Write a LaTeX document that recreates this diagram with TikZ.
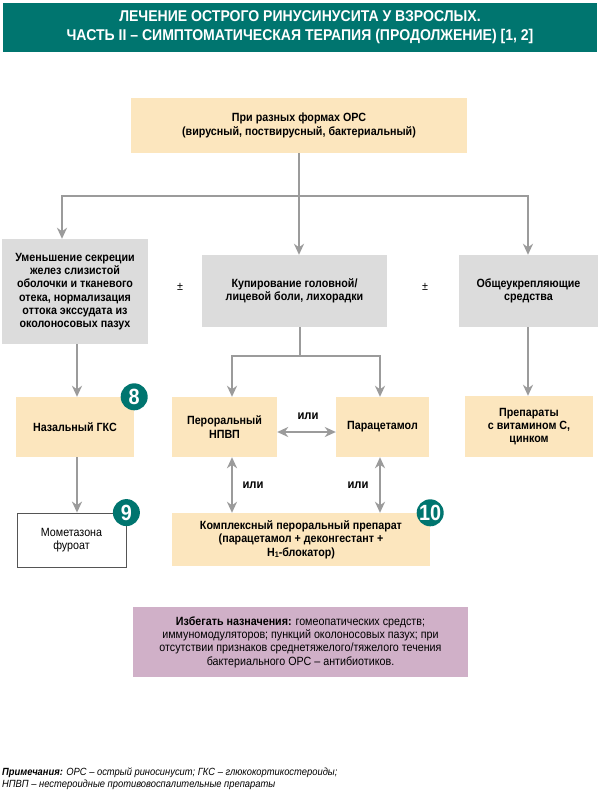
\documentclass[tikz,border=0pt]{standalone}
\usepackage{fontspec}
\setmainfont{Liberation Sans}[FakeStretch=0.9]
\usetikzlibrary{arrows.meta}
\definecolor{tealc}{RGB}{0,117,111}
\definecolor{beigec}{RGB}{252,230,190}
\definecolor{grayc}{RGB}{220,220,220}
\definecolor{purplec}{RGB}{208,176,200}
\definecolor{linec}{RGB}{155,155,155}
\definecolor{bordc}{RGB}{85,85,85}
\tikzset{
  boxbase/.style={inner sep=0pt, align=center, font=\fontsize{11.9}{13.3}\selectfont\bfseries},
  beigebox/.style={boxbase, fill=beigec},
  graybox/.style={boxbase, fill=grayc},
  conn/.style={draw=linec, line width=2.8pt, line join=miter},
  arr/.style={conn, -{Stealth[length=11pt,width=10pt,inset=3.5pt]}},
  darr/.style={conn, {Stealth[length=11pt,width=10pt,inset=3.5pt]}-{Stealth[length=11pt,width=10pt,inset=3.5pt]}},
  badge/.style={circle, fill=tealc, text=white, minimum size=27pt, inner sep=0pt, font=\fontsize{22}{22}\selectfont\bfseries},
  orlbl/.style={inner sep=0pt, font=\fontsize{12.5}{13}\selectfont\bfseries},
  pmlbl/.style={inner sep=0pt, font=\fontsize{12}{13}\selectfont}
}
\begin{document}
\begin{tikzpicture}[x=1pt,y=-1pt]
\path[use as bounding box, fill=white] (0,0) rectangle (600,796);

\node[fill=tealc, minimum width=594pt, minimum height=49pt, inner sep=0pt, text=white, align=center,
  font=\fontsize{15.6}{19}\selectfont\bfseries] (title) at (300,27.5)
  {ЛЕЧЕНИЕ ОСТРОГО РИНУСИНУСИТА У ВЗРОСЛЫХ.\\ЧАСТЬ II – СИМПТОМАТИЧЕСКАЯ ТЕРАПИЯ (ПРОДОЛЖЕНИЕ) [1, 2]};

\node[beigebox, minimum width=336pt, minimum height=55pt] (top) at (299,125.5)
  {При разных формах ОРС\\(вирусный, поствирусный, бактериальный)};

\node[graybox, minimum width=146pt, minimum height=105pt] (left) at (75,291.5)
  {Уменьшение секреции\\желез слизистой\\оболочки и тканевого\\отека, нормализация\\оттока экссудата из\\околоносовых пазух};
\node[graybox, minimum width=185pt, minimum height=72pt] (mid) at (294.5,291)
  {Купирование головной/\\лицевой боли, лихорадки};
\node[graybox, minimum width=139pt, minimum height=72pt] (right) at (528.5,291)
  {Общеукрепляющие\\средства};

\node[pmlbl] (pm1) at (180,287) {±};
\node[pmlbl] (pm2) at (425,287) {±};

\node[beigebox, minimum width=118pt, minimum height=60pt] (nasal) at (75,427) {Назальный ГКС};
\node[beigebox, minimum width=105pt, minimum height=60pt] (nsaid) at (224.5,427) {Пероральный\\НПВП};
\node[beigebox, minimum width=93pt, minimum height=60pt] (para) at (382.5,427) {Парацетамол};
\node[beigebox, minimum width=128pt, minimum height=61pt] (vit) at (529,426.5) {Препараты\\с витамином С,\\цинком};

\node[boxbase, font=\fontsize{11.9}{13.3}\selectfont, fill=white, draw=bordc, line width=0.8pt,
  minimum width=109pt, minimum height=54pt] (mom) at (71.5,540) {Мометазона\\фуроат};
\node[beigebox, minimum width=258pt, minimum height=53pt] (complex) at (301,539.5)
  {Комплексный пероральный препарат\\(парацетамол + деконгестант +\\Н\raisebox{-0.3ex}{\fontsize{8}{8}\selectfont 1}-блокатор)};

\node[boxbase, font=\fontsize{11.9}{13.3}\selectfont, fill=purplec, minimum width=335pt, minimum height=70pt] (avoid) at (300.5,642)
  {\textbf{Избегать назначения:} гомеопатических средств;\\иммуномодуляторов; пункций околоносовых пазух; при\\отсутствии признаков среднетяжелого/тяжелого течения\\бактериального ОРС – антибиотиков.};

% connectors from top
\coordinate (jL) at (62,196);
\coordinate (jR) at (528,196);
\draw[conn] (top.south) -- (top.south |- jL);
\draw[arr] (jR) -- (jL) -- (jL |- left.north);
\draw[arr] (jL) -- (jR) -- (jR |- right.north);
\draw[arr] (top.south |- jL) -- (top.south |- mid.north);

% left column
\coordinate (xl) at (77,0);
\draw[arr] (left.south -| xl) -- (nasal.north -| xl);
\draw[arr] (nasal.south -| xl) -- (mom.north -| xl);

% middle column
\coordinate (jm) at (300,356);
\coordinate (jmL) at (232,356);
\coordinate (jmR) at (380,356);
\draw[conn] (mid.south -| jm) -- (jm);
\draw[arr] (jmR) -- (jmL) -- (jmL |- nsaid.north);
\draw[arr] (jmL) -- (jmR) -- (jmR |- para.north);
\draw[darr] ([yshift=-5pt]nsaid.east) -- ([yshift=-5pt]para.west);
\draw[darr] (nsaid.south -| jmL) -- (complex.north -| jmL);
\draw[darr] (para.south -| jmR) -- (complex.north -| jmR);
\node[orlbl] (or1) at (308,416) {или};
\node[orlbl] (or2) at (253,485) {или};
\node[orlbl] (or3) at (358,485) {или};

% right column
\draw[arr] (right.south -| jR) -- (vit.north -| jR);

% badges
\node[badge] (b8) at (nasal.north east) {8};
\node[badge] (b9) at (mom.north east) {9};
\node[badge] (b10) at (complex.north east) {10};

% note
\node[anchor=west, align=left, inner sep=0pt, font=\fontsize{10.4}{12}\selectfont\itshape] (note) at (2,779)
  {\textbf{Примечания:} ОРС – острый риносинусит; ГКС – глюкокортикостероиды;\\НПВП – нестероидные противовоспалительные препараты};
\end{tikzpicture}
\end{document}
